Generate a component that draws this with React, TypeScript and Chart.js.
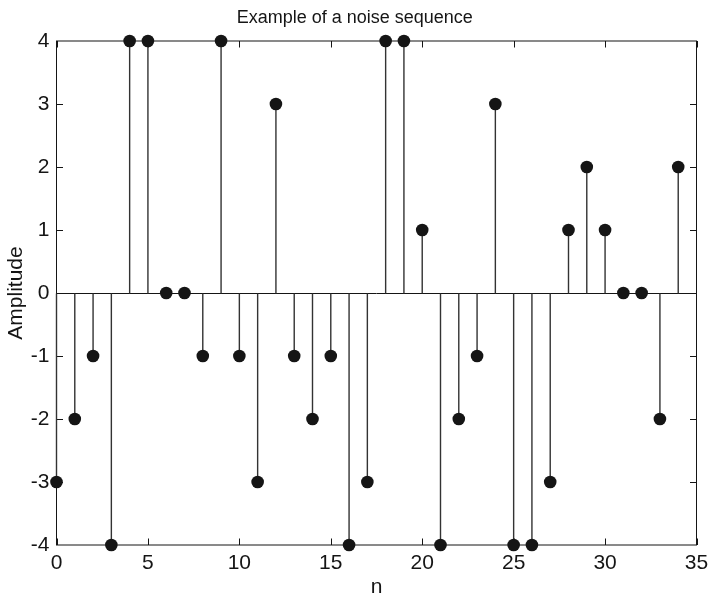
import React, { useEffect, useRef } from "react";
import { Chart, registerables } from "chart.js";

Chart.register(...registerables);

const titleText = "Example of a noise sequence";
const xLabel = "n";
const yLabel = "Amplitude";
const sampleIndex = [0, 1, 2, 3, 4, 5, 6, 7, 8, 9, 10, 11, 12, 13, 14, 15, 16, 17, 18, 19, 20, 21, 22, 23, 24, 25, 26, 27, 28, 29, 30, 31, 32, 33, 34];
const amplitude = [-3, -2, -1, -4, 4, 4, 0, 0, -1, 4, -1, -3, 3, -1, -2, -1, -4, -3, 4, 4, 1, -4, -2, -1, 3, -4, -4, -3, 1, 2, 1, 0, 0, -2, 2];
const xMin = 0;
const xMax = 35;
const xStep = 5;
const yMin = -4;
const yMax = 4;
const yStep = 1;

const FONT = "'Liberation Sans', Arial, Helvetica, sans-serif";
const INK = "#151515";

const stemPlugin = {
  id: "stemPlugin",
  beforeDatasetsDraw(chart: any) {
    const { ctx, chartArea, scales } = chart;
    const xs = scales.x;
    const ys = scales.y;
    const { left, right, top, bottom } = chartArea;
    ctx.save();
    // frame
    ctx.strokeStyle = INK;
    ctx.lineWidth = 1;
    ctx.strokeRect(left, top, right - left, bottom - top);
    // inward ticks
    const tl = 6.5;
    ctx.beginPath();
    xs.ticks.forEach((t: any) => {
      const px = Math.round(xs.getPixelForValue(t.value)) + 0.5;
      if (Math.abs(px - left) < 1 || Math.abs(px - right) < 1) return;
      ctx.moveTo(px, bottom);
      ctx.lineTo(px, bottom - tl);
      ctx.moveTo(px, top);
      ctx.lineTo(px, top + tl);
    });
    ys.ticks.forEach((t: any) => {
      const py = Math.round(ys.getPixelForValue(t.value)) + 0.5;
      if (Math.abs(py - top) < 1 || Math.abs(py - bottom) < 1) return;
      ctx.moveTo(left, py);
      ctx.lineTo(left + tl, py);
      ctx.moveTo(right, py);
      ctx.lineTo(right - tl, py);
    });
    ctx.stroke();
    // baseline
    const y0 = Math.round(ys.getPixelForValue(0)) + 0.5;
    ctx.beginPath();
    ctx.moveTo(left, y0);
    ctx.lineTo(right, y0);
    ctx.stroke();
    // stems
    ctx.strokeStyle = "#333333";
    ctx.lineWidth = 1.4;
    ctx.beginPath();
    sampleIndex.forEach((n, i) => {
      const px = xs.getPixelForValue(n);
      ctx.moveTo(px, y0);
      ctx.lineTo(px, ys.getPixelForValue(amplitude[i]));
    });
    ctx.stroke();
    ctx.restore();
  },
};

export default function App() {
  const ref = useRef<HTMLCanvasElement | null>(null);
  useEffect(() => {
    document.body.style.margin = "0";
    document.body.style.overflow = "hidden";
    const canvas = ref.current;
    if (!canvas) return;
    const chart = new Chart(canvas, {
      type: "scatter",
      data: {
        datasets: [
          {
            label: "noise",
            data: sampleIndex.map((n, i) => ({ x: n, y: amplitude[i] })),
            pointRadius: 6.3,
            pointHoverRadius: 6.3,
            pointBackgroundColor: INK,
            pointBorderColor: INK,
            pointBorderWidth: 0,
            showLine: false,
            clip: false as any,
          },
        ],
      },
      options: {
        responsive: false,
        animation: false,
        events: [],
        layout: { padding: { left: 13, right: 11.5, top: 0, bottom: 0 } },
        plugins: {
          legend: { display: false },
          tooltip: { enabled: false },
          title: {
            display: true,
            text: titleText,
            color: INK,
            font: { family: FONT, size: 18, weight: "normal" },
            padding: { top: 7, bottom: 12.4 },
          },
        },
        scales: {
          x: {
            type: "linear",
            min: xMin,
            max: xMax,
            grid: { display: false, drawTicks: false },
            border: { display: false },
            ticks: {
              stepSize: xStep,
              color: INK,
              padding: 6,
              maxRotation: 0,
              font: { family: FONT, size: 21 },
            },
            title: {
              display: true,
              text: xLabel,
              color: INK,
              font: { family: FONT, size: 21, lineHeight: 1.0 },
              padding: { top: 0, bottom: 0 },
            },
            afterFit: (s: any) => {
              s.height = 53;
              s.paddingLeft = 0;
              s.paddingRight = 0;
            },
          },
          y: {
            type: "linear",
            min: yMin,
            max: yMax,
            grid: { display: false, drawTicks: false },
            border: { display: false },
            ticks: {
              stepSize: yStep,
              color: INK,
              padding: 7,
              font: { family: FONT, size: 21 },
            },
            title: {
              display: true,
              text: yLabel,
              color: INK,
              font: { family: FONT, size: 21 },
              padding: { top: -9.5, bottom: 0 },
            },
            afterFit: (s: any) => {
              s.width = 43.5;
              s.paddingTop = 0;
              s.paddingBottom = 0;
            },
          },
        },
      },
      plugins: [stemPlugin],
    });
    return () => chart.destroy();
  }, []);
  return (
    <div style={{ width: 708, height: 598 }}>
      <canvas ref={ref} width={708} height={598} style={{ display: "block" }} />
    </div>
  );
}
